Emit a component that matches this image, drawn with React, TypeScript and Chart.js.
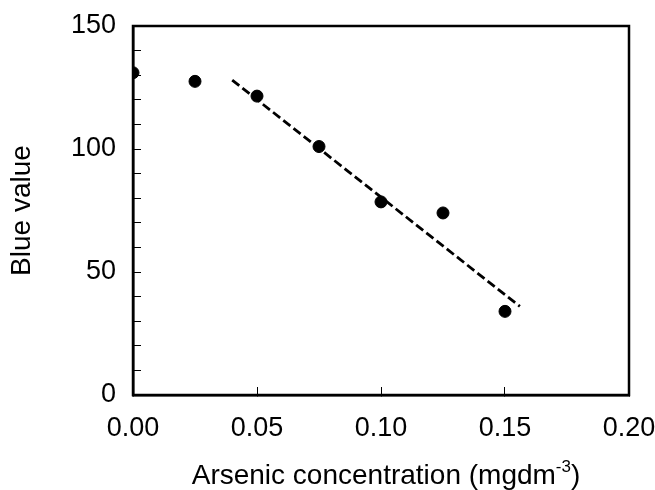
import React, { useEffect, useRef } from "react";
import { Chart, registerables } from "chart.js";

Chart.register(...registerables);

// Data
const concentration = [0, 0.025, 0.05, 0.075, 0.1, 0.125, 0.15];
const blueValue = [131, 127.5, 121.5, 101, 78.5, 74, 34];
const trendX = [0.04, 0.156];
const trendY = [128, 36];

const xTitleMain = "Arsenic concentration (mgdm";
const xTitleSup = "-3";
const xTitleEnd = ")";
const yTitle = "Blue value";

const FONT = "'Liberation Sans', Arial, sans-serif";
const FS = 27;
const TFS = 28;

const framePlugin = {
  id: "frame",
  afterDraw(chart: any) {
    const { ctx, chartArea } = chart;
    ctx.save();
    ctx.strokeStyle = "#000";
    ctx.lineWidth = 2.5;
    ctx.strokeRect(chartArea.left, chartArea.top, chartArea.right - chartArea.left, chartArea.bottom - chartArea.top);
    // x title with superscript
    const font = `${TFS}px ${FONT}`;
    const supFont = `${Math.round(TFS * 0.62)}px ${FONT}`;
    ctx.fillStyle = "#000";
    ctx.textBaseline = "alphabetic";
    ctx.textAlign = "left";
    ctx.font = font;
    const w1 = ctx.measureText(xTitleMain).width;
    const w3 = ctx.measureText(xTitleEnd).width;
    ctx.font = supFont;
    const w2 = ctx.measureText(xTitleSup).width;
    const total = w1 + w2 + w3;
    const cx = (chartArea.left + chartArea.right) / 2 + 5;
    const by = chartArea.bottom + 89;
    let x = cx - total / 2;
    ctx.font = font;
    ctx.fillText(xTitleMain, x, by);
    x += w1;
    ctx.font = supFont;
    ctx.fillText(xTitleSup, x, by - TFS * 0.42);
    x += w2;
    ctx.font = font;
    ctx.fillText(xTitleEnd, x, by);
    ctx.restore();
  },
};

export default function App() {
  const ref = useRef<HTMLCanvasElement>(null);
  useEffect(() => {
    const chart = new Chart(ref.current as HTMLCanvasElement, {
      type: "scatter",
      data: {
        datasets: [
          {
            label: "Blue value",
            data: concentration.map((c, i) => ({ x: c, y: blueValue[i] })),
            backgroundColor: "#000",
            borderColor: "#000",
            pointRadius: 6,
            pointHoverRadius: 6,
          },
          {
            type: "line",
            label: "Trend",
            data: trendX.map((c, i) => ({ x: c, y: trendY[i] })),
            borderColor: "#000",
            borderWidth: 2.8,
            borderDash: [9, 4],
            pointRadius: 0,
            showLine: true,
            fill: false,
          } as any,
        ],
      },
      options: {
        responsive: false,
        animation: false,
        layout: { padding: { top: 26, right: 26, left: 0, bottom: 0 } },
        plugins: { legend: { display: false }, tooltip: { enabled: false } },
        scales: {
          x: {
            type: "linear",
            min: 0,
            max: 0.2,
            ticks: {
              stepSize: 0.05,
              autoSkip: false,
              maxRotation: 0,
              callback: (v: any) => Number(v).toFixed(2),
              font: { size: FS, family: FONT },
              color: "#000",
              padding: 25,
            },
            grid: { drawOnChartArea: false, tickLength: -8, color: "#000", tickWidth: 1 },
            border: { color: "#000", width: 2.5 },
            afterFit: (s: any) => {
              s.height = 95;
              s.paddingLeft = 0;
              s.paddingRight = 0;
            },
          },
          y: {
            min: 0,
            max: 150,
            ticks: {
              stepSize: 10,
              autoSkip: false,
              callback: (v: any) => (Number(v) % 50 === 0 ? String(v) : ""),
              font: { size: FS, family: FONT },
              color: "#000",
              padding: 25,
            },
            grid: { drawOnChartArea: false, tickLength: -8, color: "#000", tickWidth: 1 },
            border: { color: "#000", width: 2.5 },
            title: {
              display: true,
              text: yTitle,
              font: { size: TFS, family: FONT },
              color: "#000",
              padding: { top: 5, bottom: 0 },
            },
            afterFit: (s: any) => {
              s.width = 133;
              s.paddingTop = 0;
              s.paddingBottom = 0;
            },
          },
        },
      },
      plugins: [framePlugin],
    });
    return () => chart.destroy();
  }, []);
  return (
    <canvas
      ref={ref}
      width={655}
      height={490}
      style={{ position: "absolute", left: 0, top: 0, width: 655, height: 490 }}
    />
  );
}
